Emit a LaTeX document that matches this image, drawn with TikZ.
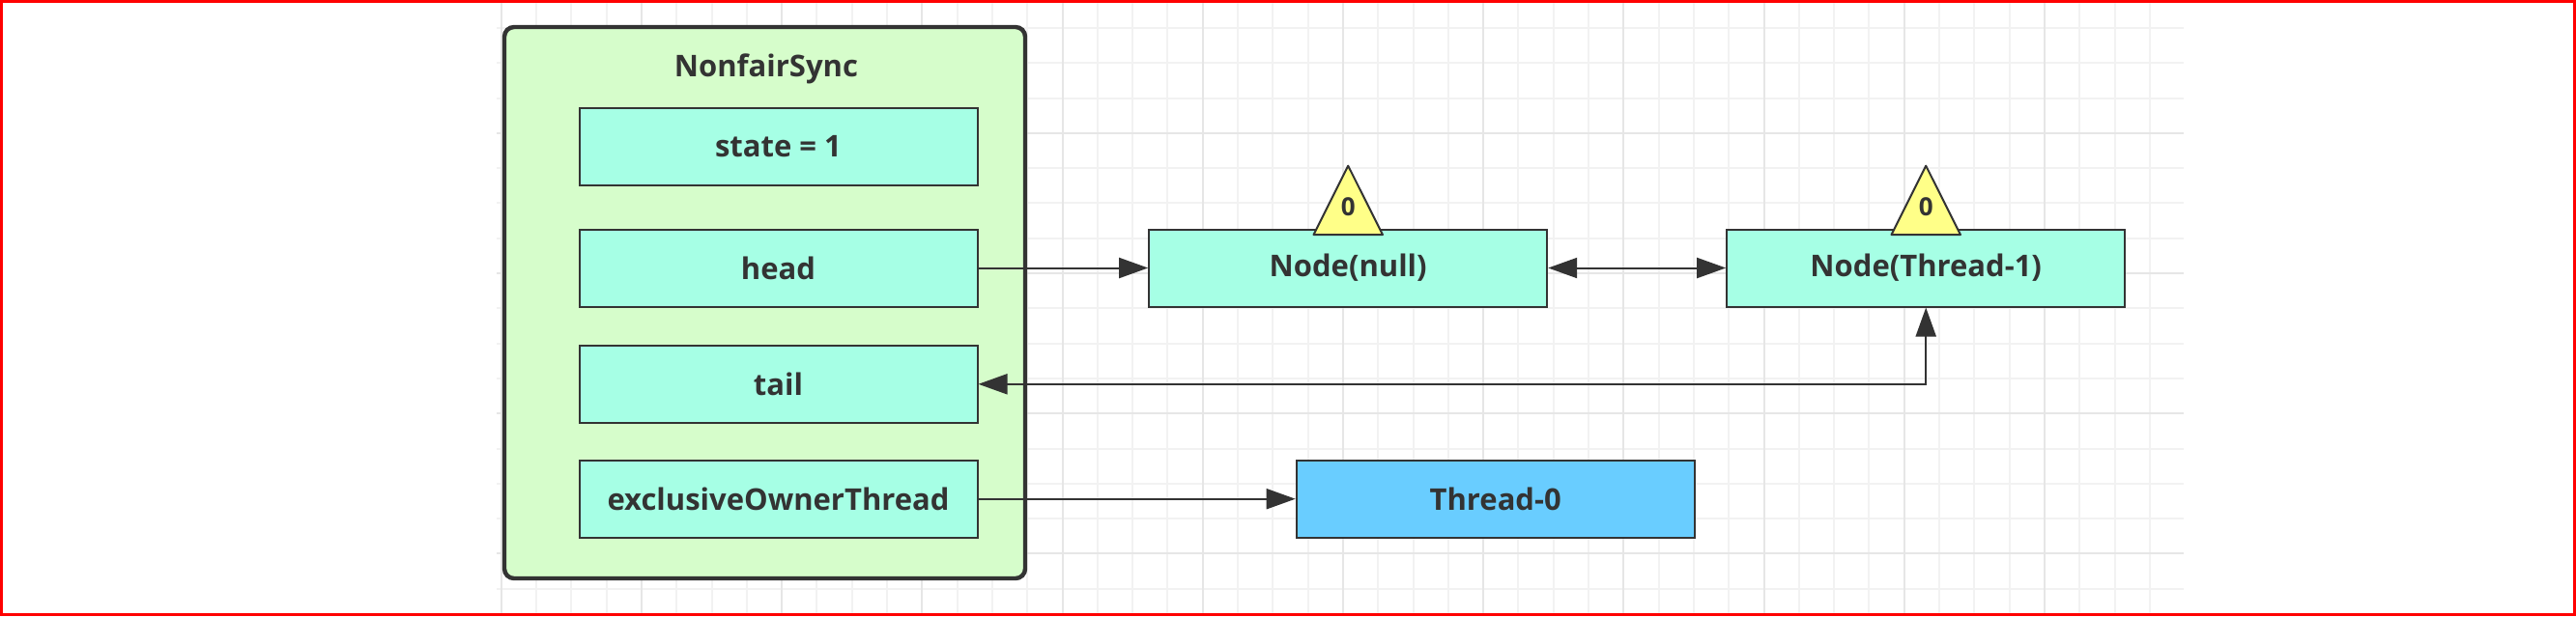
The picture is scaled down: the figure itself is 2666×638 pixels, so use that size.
\documentclass[tikz,border=0pt]{standalone}
\usepackage{fontspec}
\setmainfont{Open Sans}
\usetikzlibrary{arrows.meta,calc}

\definecolor{syncgreen}{HTML}{D6FDCB}
\definecolor{fieldcyan}{HTML}{A6FFE5}
\definecolor{threadblue}{HTML}{69CDFF}
\definecolor{flagyellow}{HTML}{FFFF88}
\definecolor{inkgray}{HTML}{333333}
\definecolor{gridminor}{HTML}{F2F2F2}
\definecolor{gridmajor}{HTML}{E6E6E6}

\begin{document}
\begin{tikzpicture}[x=.5pt, y=-.5pt,
    sync/.style={draw=inkgray, line width=2.2pt, fill=syncgreen, rounded corners=5pt,
                 minimum width=269.5pt, minimum height=285.5pt},
    field/.style={draw=inkgray, line width=1pt, fill=fieldcyan, minimum width=206pt,
                  minimum height=40pt, inner sep=0pt, text=inkgray,
                  font=\fontsize{15.5}{18}\selectfont\bfseries},
    thread/.style={field, fill=threadblue},
    label/.style={text=inkgray, inner sep=0pt, font=\fontsize{15.5}{18}\selectfont\bfseries},
    flag/.style={draw=inkgray, line width=1pt, fill=flagyellow, line join=round},
    count/.style={text=inkgray, inner sep=0pt, font=\fontsize{13}{15}\selectfont\bfseries},
    link/.style={draw=inkgray, line width=1pt},
    >={Triangle[length=15pt,width=10.5pt]}]
  \useasboundingbox (0,0) rectangle (2666,638);

  % grid paper
  \foreach \k in {0,...,47}
    \draw[gridminor, line width=1pt] (518.7+36.3*\k, 0) -- (518.7+36.3*\k, 638);
  \foreach \k in {0,...,16}
    \draw[gridminor, line width=1pt] (514, 28.9+36.3*\k) -- (2260, 28.9+36.3*\k);
  \foreach \k in {0,4,...,44}
    \draw[gridmajor, line width=1pt] (518.7+36.3*\k, 0) -- (518.7+36.3*\k, 638);
  \foreach \k in {3,7,11,15}
    \draw[gridmajor, line width=1pt] (514, 28.9+36.3*\k) -- (2260, 28.9+36.3*\k);

  % NonfairSync
  \node[sync] (sync) at (791.5, 313.5) {};
  \node[label] (synctitle) at (793, 71.7) {NonfairSync};
  \node[field] (state) at (805.5, 151.7) {state = 1};
  \node[field] (head) at (805.5, 277.5) {head};
  \node[field] (tail) at (805.5, 397.8) {tail};
  \node[field] (owner) at (805.5, 516.7) {exclusiveOwnerThread};

  % queue and owner
  \node[field] (nnull) at (1395.2, 277.5) {Node(null)};
  \node[field] (nt1) at (1993.2, 277.5) {Node(Thread-1)};
  \node[thread] (t0) at (1547.7, 516.7) {Thread-0};

  \foreach \n in {nnull, nt1} {
    \draw[flag] ($(\n.north)+(-35.7,6.5)$) -- ($(\n.north)+(0,-64.8)$)
      -- ($(\n.north)+(35.7,6.5)$) -- cycle;
    \node[count] (\n-ws) at ($(\n.north)+(0,-22.5)$) {0};
  }

  \draw[link, ->] (head.east) -- (nnull.west);
  \draw[link, <->] (nnull.east) -- (nt1.west);
  \draw[link, <->] (tail.east) -| (nt1.south);
  \draw[link, ->] (owner.east) -- (t0.west);

  \draw[red, line width=1.35pt] (1.35,1.35) rectangle (2664.65,636.65);
\end{tikzpicture}
\end{document}
